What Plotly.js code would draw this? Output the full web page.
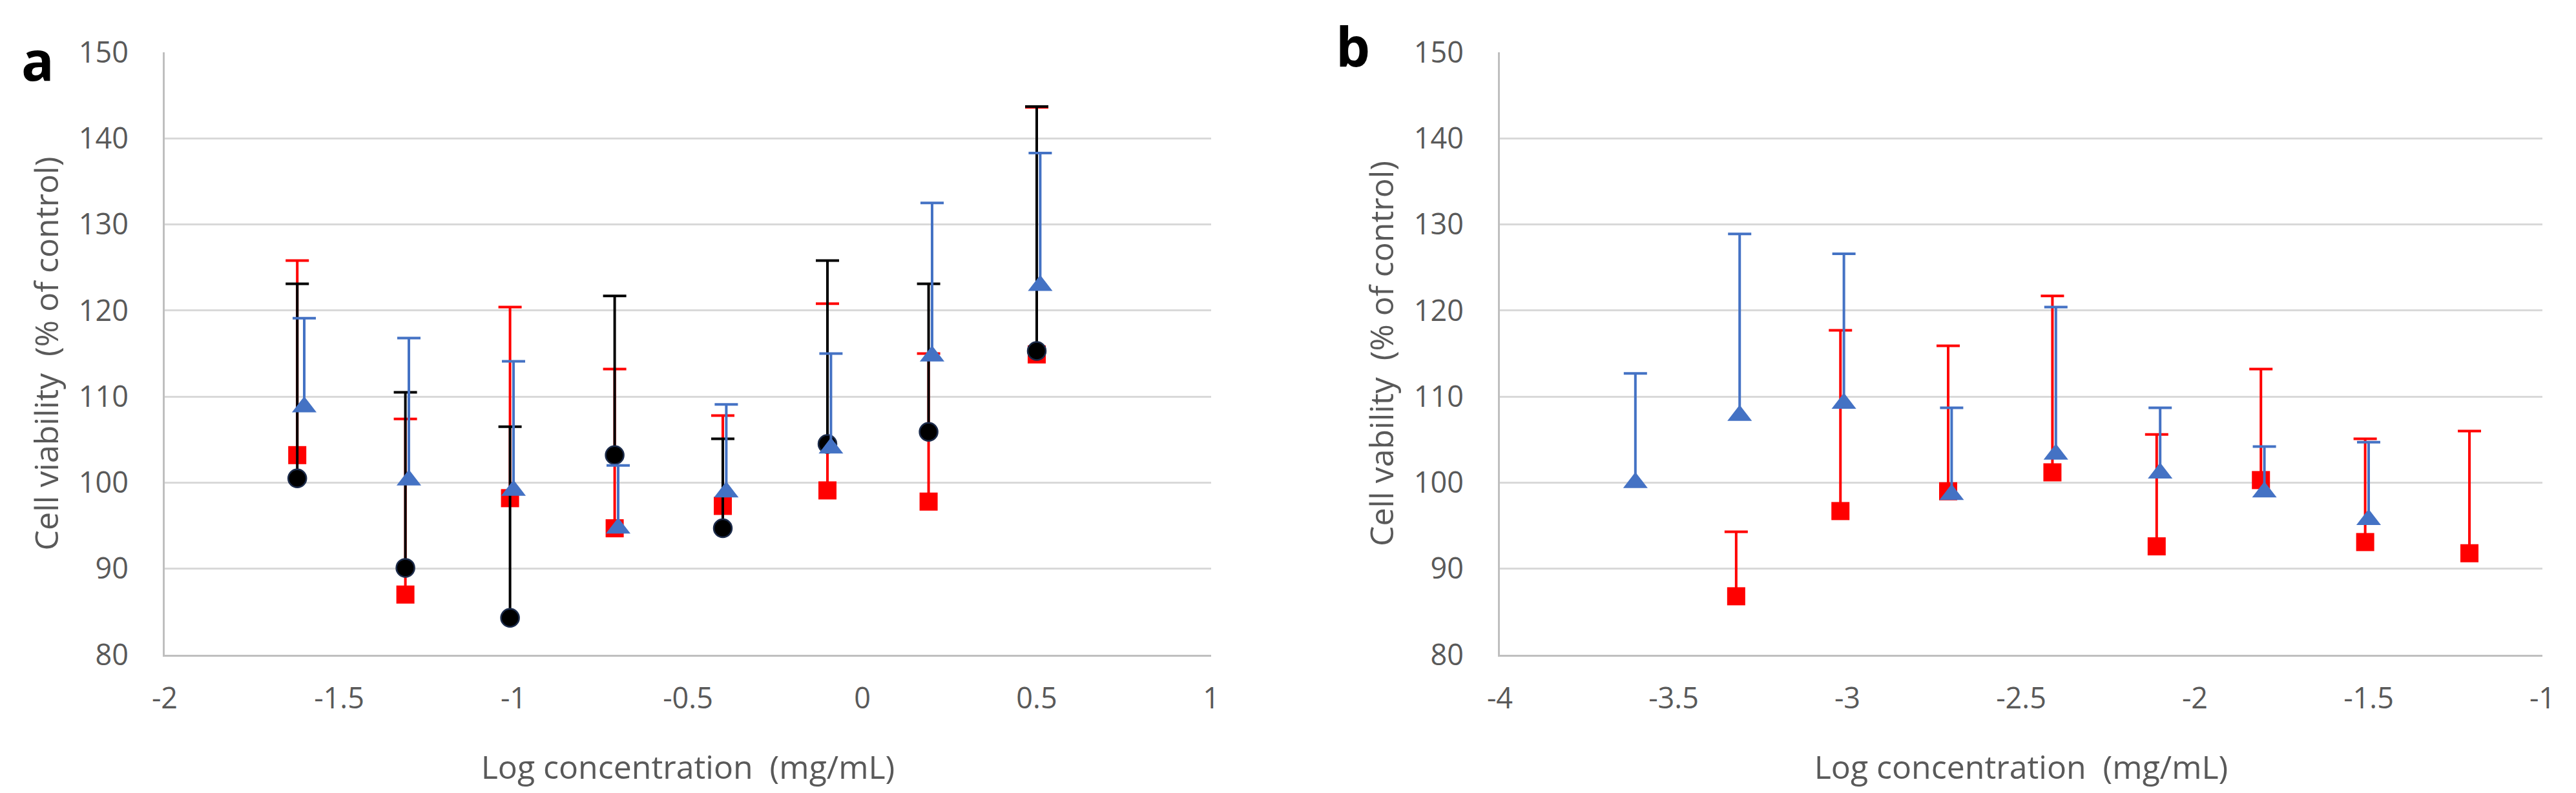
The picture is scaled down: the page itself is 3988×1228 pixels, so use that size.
<!DOCTYPE html>
<html>
<head>
<meta charset="utf-8">
<script src="https://cdn.plot.ly/plotly-3.0.1.min.js"></script>
<style>
html,body{margin:0;padding:0;background:#ffffff;}
#chart{width:3988px;height:1228px;}
</style>
</head>
<body>
<div id="chart"></div>
<script>
// ---------- Panel a data ----------
const aXSquareCircle = [-1.62, -1.31, -1.01, -0.71, -0.40, -0.10, 0.19, 0.50];
const aXTriangle     = [-1.60, -1.30, -1.00, -0.70, -0.39, -0.09, 0.20, 0.51];
const aRed        = [103.2, 87.0, 98.2, 94.7, 97.3, 99.1, 97.8, 114.9];
const aRedErr     = [22.6, 20.4, 22.2, 18.5, 10.5, 21.7, 17.2, 28.7];
const aBlack      = [100.5, 90.1, 84.3, 103.2, 94.7, 104.5, 105.9, 115.3];
const aBlackErr   = [22.6, 20.4, 22.2, 18.5, 10.4, 21.3, 17.2, 28.4];
const aBlue       = [108.8, 100.3, 99.1, 94.7, 98.9, 104.0, 114.7, 122.9];
const aBlueErr    = [10.3, 16.5, 15.0, 7.3, 10.2, 11.0, 17.8, 15.4];

// ---------- Panel b data ----------
const bXTriangle = [-3.61, -3.31, -3.01, -2.70, -2.40, -2.10, -1.80, -1.50];
const bBlue      = [100.0, 107.8, 109.2, 98.6, 103.3, 101.1, 98.9, 95.7];
const bBlueErr   = [12.7, 21.1, 17.4, 10.1, 17.1, 7.6, 5.3, 9.0];
const bXSquare   = [-3.32, -3.02, -2.71, -2.41, -2.11, -1.81, -1.51, -1.21];
const bRed       = [86.8, 96.7, 99.0, 101.2, 92.6, 100.3, 93.1, 91.8];
const bRedErr    = [7.5, 21.0, 16.9, 20.5, 13.0, 12.9, 12.0, 14.2];

// ---------- Tick labels ----------
const aXTickVals = [-2, -1.5, -1, -0.5, 0, 0.5, 1];
const aXTickText = ['-2', '-1.5', '-1', '-0.5', '0', '0.5', '1'];
const bXTickVals = [-4, -3.5, -3, -2.5, -2, -1.5, -1];
const bXTickText = ['-4', '-3.5', '-3', '-2.5', '-2', '-1.5', '-1'];
const yTickVals  = [80, 90, 100, 110, 120, 130, 140, 150];
const yTickText  = ['80', '90', '100', '110', '120', '130', '140', '150'];

const RED = '#FF0000', BLACK = '#000000', BLUE = '#4472C4';
const FONT = "'Open Sans', 'Noto Sans', sans-serif";
const TEXT = '#595959';

function series(x, y, err, color, symbol, size, lineColor, xa, ya) {
  const main = {
    type: 'scatter', mode: 'markers', x: x, y: y, xaxis: xa, yaxis: ya,
    marker: {symbol: symbol, size: size, color: color,
             line: {color: lineColor || color, width: lineColor ? 2.5 : 0}},
    error_y: {type: 'data', symmetric: false, array: err, arrayminus: err.map(() => 0),
              color: color, thickness: 4, width: 0},
    showlegend: false
  };
  const caps = {
    type: 'scatter', mode: 'markers', x: x, y: y.map((v, i) => v + err[i]),
    xaxis: xa, yaxis: ya,
    marker: {size: 1, color: 'rgba(0,0,0,0)'},
    error_y: {type: 'data', array: err.map(() => 0), color: color, thickness: 4, width: 18},
    showlegend: false, hoverinfo: 'skip'
  };
  return [main, caps];
}

const data = [].concat(
  series(aXSquareCircle, aRed,   aRedErr,   RED,   'square',      28, null,      'x',  'y'),
  series(aXSquareCircle, aBlack, aBlackErr, BLACK, 'circle',      28, '#1c2b4a', 'x',  'y'),
  series(aXTriangle,     aBlue,  aBlueErr,  BLUE,  'triangle-up', 33, null,      'x',  'y'),
  series(bXSquare,       bRed,   bRedErr,   RED,   'square',      28, null,      'x2', 'y2'),
  series(bXTriangle,     bBlue,  bBlueErr,  BLUE,  'triangle-up', 33, null,      'x2', 'y2')
);

const W = 3988, H = 1228;
function xAxis(domain, range, vals, text, anchor) {
  return {
    domain: domain, anchor: anchor, range: range, fixedrange: true,
    tickmode: 'array', tickvals: vals, ticktext: text,
    showgrid: false, zeroline: false, showline: true, linecolor: '#bfbfbf', linewidth: 3,
    ticks: '', ticklabelstandoff: 26,
    tickfont: {family: FONT, size: 45, color: TEXT},
    title: {text: 'Log concentration\u00a0 (mg/mL)', font: {family: FONT, size: 50, color: TEXT}, standoff: 62}
  };
}
function yAxis(domain, title, anchor) {
  return {
    domain: domain, anchor: anchor, range: [80, 150], fixedrange: true,
    tickmode: 'array', tickvals: yTickVals, ticktext: yTickText,
    showgrid: true, gridcolor: '#d9d9d9', gridwidth: 3,
    zeroline: false, showline: true, linecolor: '#bfbfbf', linewidth: 3,
    ticks: '', ticklabelstandoff: 44,
    tickfont: {family: FONT, size: 45, color: TEXT},
    title: {text: title, font: {family: FONT, size: 50, color: TEXT}, standoff: 16}
  };
}

const yDom = [1 - 1014 / H, 1 - 81 / H];
const layout = {
  width: W, height: H,
  margin: {l: 0, r: 0, t: 0, b: 0},
  paper_bgcolor: '#ffffff', plot_bgcolor: '#ffffff',
  showlegend: false,
  font: {family: FONT, color: TEXT},
  xaxis:  xAxis([255 / W, 1875 / W], [-2, 1], aXTickVals, aXTickText, 'y'),
  yaxis:  yAxis(yDom, 'Cell viability\u00a0 (% of control)', 'x'),
  xaxis2: xAxis([2322 / W, 3936 / W], [-4, -1], bXTickVals, bXTickText, 'y2'),
  yaxis2: yAxis(yDom, 'Cell vability\u00a0 (% of control)', 'x2'),
  annotations: [
    {text: '<b>a</b>', xref: 'paper', yref: 'paper', x: 31 / W, y: 1 - 33 / H,
     xanchor: 'left', yanchor: 'top', showarrow: false,
     font: {family: "'Open Sans', sans-serif", size: 84, color: '#000000'}},
    {text: '<b>b</b>', xref: 'paper', yref: 'paper', x: 2066 / W, y: 1 - 11 / H,
     xanchor: 'left', yanchor: 'top', showarrow: false,
     font: {family: "'Open Sans', sans-serif", size: 84, color: '#000000'}}
  ]
};

Plotly.newPlot('chart', data, layout, {staticPlot: true, displayModeBar: false});
</script>
</body>
</html>
